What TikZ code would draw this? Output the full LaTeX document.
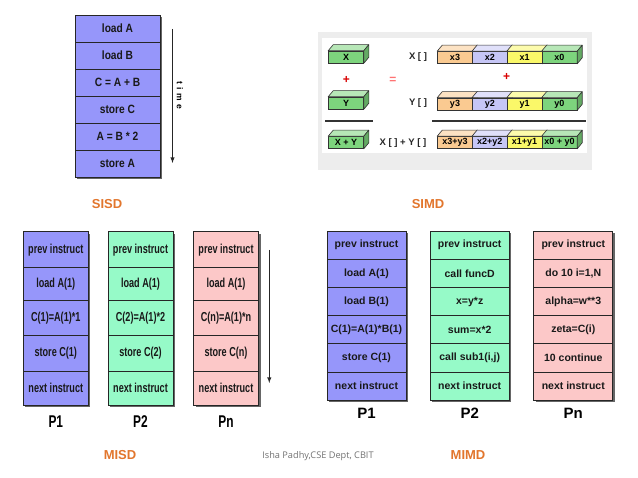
\documentclass[tikz,border=0pt]{standalone}
\usepackage{fontspec}
\setmainfont{Liberation Sans}
\newfontfamily\narrowsf[FakeStretch=0.7]{Liberation Sans}
\newfontfamily\slimsf[FakeStretch=0.85]{Liberation Sans}
\newfontfamily\creditsf{Open Sans}
\usepackage{tikz}
\usetikzlibrary{calc,shadows}
\definecolor{procblue}{RGB}{150,150,250}
\definecolor{procgreen}{RGB}{150,250,200}
\definecolor{procpink}{RGB}{252,200,200}
\definecolor{simdgreen}{RGB}{125,212,125}
\definecolor{simdpeach}{RGB}{250,202,145}
\definecolor{simdlilac}{RGB}{198,198,246}
\definecolor{simdyellow}{RGB}{250,248,105}
\definecolor{titleorange}{RGB}{226,118,45}
\tikzstyle{cell} = [draw=black!85, line width=0.8pt, inner sep=0pt, text=black!90, drop shadow={shadow xshift=2pt, shadow yshift=-2pt, fill=black!75, opacity=0.8}]
\tikzstyle{sisd} = [cell, fill=procblue, minimum width=85pt, minimum height=27pt, font={\slimsf\bfseries\fontsize{12}{14}\selectfont}]
\tikzstyle{misd} = [cell, minimum width=65pt, font={\narrowsf\bfseries\fontsize{13}{15}\selectfont}]
\tikzstyle{mimd} = [cell, minimum width=79pt, minimum height=28.2pt, font={\bfseries\fontsize{10.5}{12}\selectfont}]
\tikzstyle{simd} = [draw=black!80, line width=0.6pt, inner sep=0pt, minimum width=35pt, minimum height=12pt, font={\bfseries\fontsize{9}{10}\selectfont}]
\tikzstyle{simdface} = [draw=black!80, line width=0.6pt, line join=round]
\tikzstyle{simdtext} = [font={\bfseries\fontsize{9.5}{11}\selectfont}, text=black!85]
\tikzstyle{plus} = [font={\bfseries\fontsize{12}{13}\selectfont}, text=red!85!black]
\tikzstyle{title} = [font={\bfseries\fontsize{13}{15}\selectfont}, text=titleorange]
\tikzstyle{plabel} = [font={\bfseries\fontsize{15}{17}\selectfont}]
\tikzstyle{timeline} = [->, >=latex, line width=0.9pt, black!85]
\newcommand{\simdbox}[5]{%
  \node[simd, fill=#4](#1) at (#2,#3){#5};
  \draw[simdface, fill=#4!55!white] (#1.north west) -- ($(#1.north west)+(5,-6)$) -- ($(#1.north east)+(5,-6)$) -- (#1.north east) -- cycle;
  \draw[simdface, fill=#4!80!black] (#1.north east) -- ($(#1.north east)+(5,-6)$) -- ($(#1.south east)+(5,-6)$) -- (#1.south east) -- cycle;
}

\begin{document}
\begin{tikzpicture}[x=1pt,y=-1pt]
  \useasboundingbox[fill=white] (0,0) rectangle (638,478);
  % SISD
  \node[sisd](s1) at (117.5,28.5){load A};
  \node[sisd](s2) at (117.5,55.5){load B};
  \node[sisd](s3) at (117.5,82.5){C = A + B};
  \node[sisd](s4) at (117.5,109.5){store C};
  \node[sisd](s5) at (117.5,136.5){A = B * 2};
  \node[sisd](s6) at (117.5,163.5){store A};
  \coordinate (t0) at (172.5,29);
  \coordinate (t1) at (172.5,163);
  \draw[timeline](t0)--(t1);
  \node[font={\bfseries\fontsize{8.5}{10}\selectfont}, rotate=-90](time) at (180,95){t\hspace{3.5pt}i\hspace{3.5pt}m\hspace{3.5pt}e};
  \node[title](sisdname) at (107,204){SISD};

  % SIMD
  \fill[black!7] (318,32) rectangle (592,170);
  \fill[white] (322,38) rectangle (587,153);
  \simdbox{bx}{346}{57}{simdgreen}{X}
  \simdbox{by}{346}{103}{simdgreen}{Y}
  \simdbox{bxy}{346}{142.5}{simdgreen}{X + Y}
  \node[plus](p1) at (346.5,80){+};
  \node[plus, text=red!55](eq) at (393,80){=};
  \node[simdtext](xl) at (418,57){X [ ]};
  \node[simdtext](yl) at (418,103){Y [ ]};
  \node[simdtext](xyl) at (403,143){X [ ] + Y [ ]};
  \simdbox{x3}{455}{57.5}{simdpeach}{x3}
  \simdbox{x2}{489.8}{57.5}{simdlilac}{x2}
  \simdbox{x1}{524.6}{57.5}{simdyellow}{x1}
  \simdbox{x0}{559.4}{57.5}{simdgreen}{x0}
  \node[plus](p2) at (506.7,77){+};
  \simdbox{y3}{455}{104}{simdpeach}{y3}
  \simdbox{y2}{489.8}{104}{simdlilac}{y2}
  \simdbox{y1}{524.6}{104}{simdyellow}{y1}
  \simdbox{y0}{559.4}{104}{simdgreen}{y0}
  \draw[line width=1.3pt, black!80] (325,121) -- (373,121);
  \draw[line width=1.3pt, black!80] (432,121) -- (586,121);
  \simdbox{z3}{455}{142.5}{simdpeach}{x3+y3}
  \simdbox{z2}{489.8}{142.5}{simdlilac}{x2+y2}
  \simdbox{z1}{524.6}{142.5}{simdyellow}{x1+y1}
  \simdbox{z0}{559.4}{142.5}{simdgreen}{x0 + y0}
  \node[title](simdname) at (428,204){SIMD};

  % MISD
  \node[misd,fill=procblue,minimum height=36pt](ma1) at (55.8,249.7){prev instruct};
  \node[misd,fill=procblue,minimum height=33pt](ma2) at (55.8,284.2){load A(1)};
  \node[misd,fill=procblue,minimum height=34.3pt](ma3) at (55.8,317.9){C(1)=A(1)*1};
  \node[misd,fill=procblue,minimum height=36pt](ma4) at (55.8,353){store C(1)};
  \node[misd,fill=procblue,minimum height=34pt](ma5) at (55.8,388){next instruct};
  \node[misd,fill=procgreen,minimum height=36pt](mb1) at (140.5,249.7){prev instruct};
  \node[misd,fill=procgreen,minimum height=33pt](mb2) at (140.5,284.2){load A(1)};
  \node[misd,fill=procgreen,minimum height=34.3pt](mb3) at (140.5,317.9){C(2)=A(1)*2};
  \node[misd,fill=procgreen,minimum height=36pt](mb4) at (140.5,353){store C(2)};
  \node[misd,fill=procgreen,minimum height=34pt](mb5) at (140.5,388){next instruct};
  \node[misd,fill=procpink,minimum height=36pt](mn1) at (226,249.7){prev instruct};
  \node[misd,fill=procpink,minimum height=33pt](mn2) at (226,284.2){load A(1)};
  \node[misd,fill=procpink,minimum height=34.3pt](mn3) at (226,317.9){C(n)=A(1)*n};
  \node[misd,fill=procpink,minimum height=36pt](mn4) at (226,353){store C(n)};
  \node[misd,fill=procpink,minimum height=34pt](mn5) at (226,388){next instruct};
  \coordinate (m0) at (269.3,250);
  \coordinate (m1) at (269.3,383);
  \draw[timeline](m0)--(m1);
  \node[plabel,font={\narrowsf\bfseries\fontsize{17}{19}\selectfont}](mp1) at (55.8,421.5){P1};
  \node[plabel,font={\narrowsf\bfseries\fontsize{17}{19}\selectfont}](mp2) at (140.5,421.5){P2};
  \node[plabel,font={\narrowsf\bfseries\fontsize{17}{19}\selectfont}](mpn) at (226,421.5){Pn};
  \node[title](misdname) at (120,455){MISD};

  % MIMD
  \node[mimd,fill=procblue](da1) at (366.5,245.1){prev instruct};
  \node[mimd,fill=procblue](da2) at (366.5,273.3){load A(1)};
  \node[mimd,fill=procblue](da3) at (366.5,301.5){load B(1)};
  \node[mimd,fill=procblue](da4) at (366.5,329.7){C(1)=A(1)*B(1)};
  \node[mimd,fill=procblue](da5) at (366.5,357.9){store C(1)};
  \node[mimd,fill=procblue](da6) at (366.5,386.1){next instruct};
  \node[mimd,fill=procgreen](db1) at (469.7,245.1){prev instruct};
  \node[mimd,fill=procgreen](db2) at (469.7,273.3){call funcD};
  \node[mimd,fill=procgreen](db3) at (469.7,301.5){x=y*z};
  \node[mimd,fill=procgreen](db4) at (469.7,329.7){sum=x*2};
  \node[mimd,fill=procgreen](db5) at (469.7,357.9){call sub1(i,j)};
  \node[mimd,fill=procgreen](db6) at (469.7,386.1){next instruct};
  \node[mimd,fill=procpink](dn1) at (573.3,245.1){prev instruct};
  \node[mimd,fill=procpink](dn2) at (573.3,273.3){do 10 i=1,N};
  \node[mimd,fill=procpink](dn3) at (573.3,301.5){alpha=w**3};
  \node[mimd,fill=procpink](dn4) at (573.3,329.7){zeta=C(i)};
  \node[mimd,fill=procpink](dn5) at (573.3,357.9){10 continue};
  \node[mimd,fill=procpink](dn6) at (573.3,386.1){next instruct};
  \node[plabel](dp1) at (366.5,413.5){P1};
  \node[plabel](dp2) at (469.7,413.5){P2};
  \node[plabel](dpn) at (573.3,413.5){Pn};
  \node[title](mimdname) at (468,455){MIMD};

  \node[font={\creditsf\fontsize{9.2}{11}\selectfont}, text=black!55](credit) at (318,456){Isha Padhy,CSE Dept, CBIT};
\end{tikzpicture}
\end{document}
